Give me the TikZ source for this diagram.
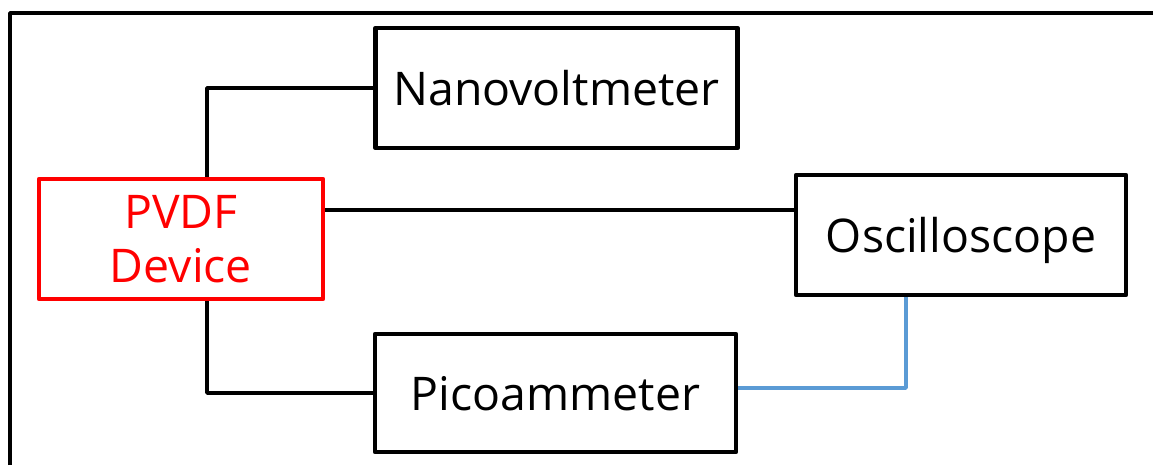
\documentclass[tikz,border=0pt]{standalone}
\usepackage{fontspec}
\setmainfont{Open Sans}
\usetikzlibrary{positioning}
\definecolor{setupLine}{HTML}{000000}
\definecolor{setupDevice}{HTML}{FF0000}
\definecolor{setupSignal}{HTML}{5B9BD5}
\tikzset{
  setupfig/.style={
    every node/.append style={font=\fontsize{33}{38}\selectfont},
    line join=round,
  },
  instrument/.style={
    draw=setupLine, line width=3.2pt, fill=white,
    align=center, inner sep=2pt, minimum width=9.05cm, minimum height=3cm,
    text depth=-2pt,
  },
  devicebox/.style={instrument, draw=setupDevice, text=setupDevice},
  wire/.style={draw=setupLine, line width=2.5pt},
  signal/.style={draw=setupSignal, line width=2.5pt},
  frame/.style={draw=setupLine, line width=2.6pt},
}
\begin{document}
\begin{tikzpicture}[setupfig]
  \useasboundingbox (0,0) rectangle (28.825,-11.625);
  % outer frame, cut off at the right and at the bottom
  \draw[frame] (0.25,-11.625) -- (0.25,-0.325) -- (28.825,-0.325);
  \node[instrument] (Nanovoltmeter) at (13.91,-2.2) {Nanovoltmeter};
  \node[devicebox, minimum width=7.1cm] (PVDF) at (4.525,-5.975) {PVDF\\Device};
  \node[instrument, minimum width=9.025cm, minimum height=2.95cm] (Picoammeter) at (13.89,-9.825) {Picoammeter};
  \node[instrument, minimum width=8.25cm] (Oscilloscope) at (24.025,-5.875) {Oscilloscope};
  \coordinate (tap) at (5.175,-5.975);
  \coordinate (level) at (12,-5.25);
  \coordinate (scopetap) at (22.65,-9.7);
  \draw[wire] (PVDF.north -| tap) |- (Nanovoltmeter.west);
  \draw[wire] (PVDF.south -| tap) |- (Picoammeter.west);
  \draw[wire] (PVDF.east |- level) -- (Oscilloscope.west |- level);
  \draw[signal] (Oscilloscope.south -| scopetap) |- (Picoammeter.east |- scopetap);
\end{tikzpicture}
\end{document}
